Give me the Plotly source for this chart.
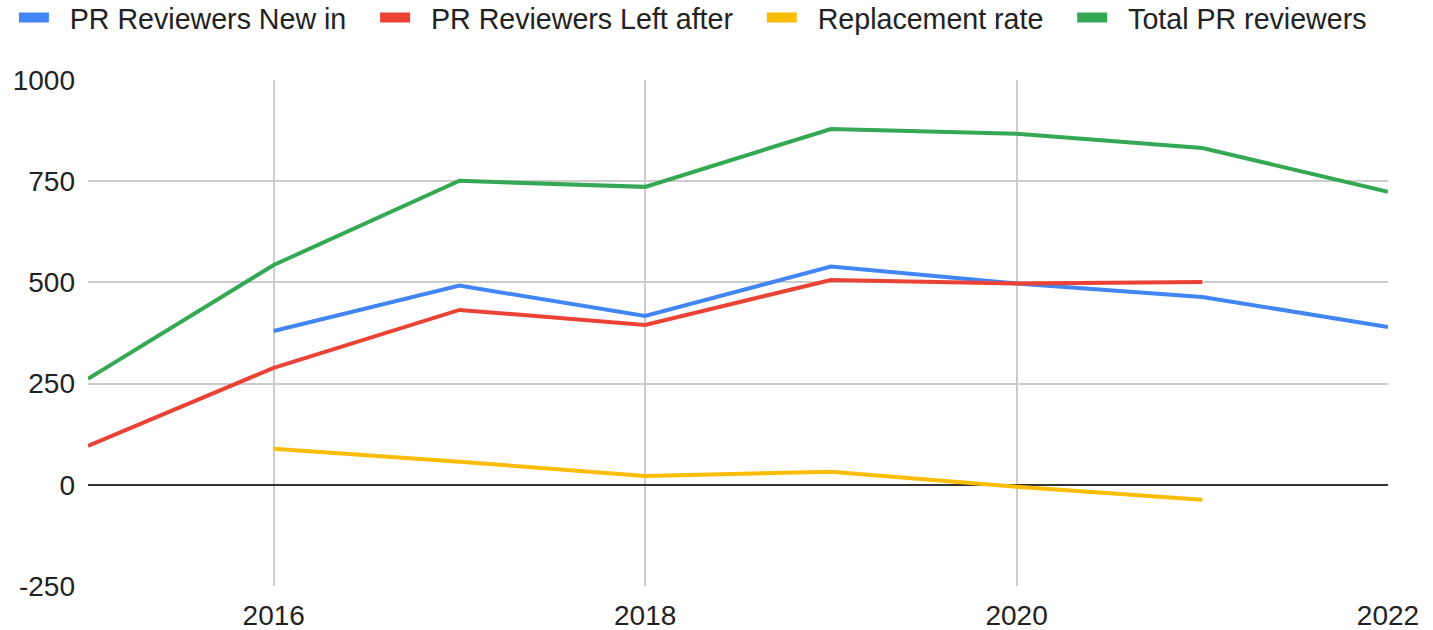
import plotly.graph_objects as go

years = [2015, 2016, 2017, 2018, 2019, 2020, 2021, 2022]
new_in = [None, 380, 492, 417, 539, 497, 464, 390]
left_after = [96, 289, 432, 395, 506, 497, 501, None]
replacement = [None, 89, 57, 22, 32, -5, -37, None]
total = [262, 543, 751, 736, 879, 867, 832, 724]

x_ticks = [2016, 2018, 2020, 2022]
y_ticks = [-250, 0, 250, 500, 750, 1000]
y_labels = ["-250", "0", "250", "500", "750", "1000"]

names = ["PR Reviewers New in", "PR Reviewers Left after", "Replacement rate", "Total PR reviewers"]
colors = ["#4285F4", "#EA4335", "#FBBC04", "#34A853"]

NB = "\u00a0"

fig = go.Figure()
for name, vals, col in zip(names, [new_in, left_after, replacement, total], colors):
    fig.add_trace(go.Scatter(x=years, y=vals, name=name, mode="lines", showlegend=False,
                             line=dict(color=col, width=4), connectgaps=False))
# legend-only entries so the swatches come out as short thick bars, padded like the original
for i, (name, col) in enumerate(zip(names, colors)):
    label = NB * 2 + name + (NB * 3 if i < len(names) - 1 else "")
    fig.add_trace(go.Scatter(x=[None], y=[None], name=label, mode="lines",
                             line=dict(color=col, width=10)))

fig.update_layout(
    width=1433, height=630,
    margin=dict(l=88, r=45, t=80, b=44, autoexpand=False),
    paper_bgcolor="white", plot_bgcolor="white",
    font=dict(family="Liberation Sans, Arial", size=28, color="#222222"),
    legend=dict(orientation="h", x=-0.057, y=1 + 62 / 506, xanchor="left", yanchor="middle",
                font=dict(size=28.6), itemwidth=30, tracegroupgap=0),
)
fig.update_xaxes(range=[2015, 2022], tickvals=x_ticks, automargin=False,
                 showgrid=True, gridcolor="#cccccc", gridwidth=2, zeroline=False,
                 ticks="", ticklabelstandoff=10)
fig.update_yaxes(range=[-250, 1000], tickvals=y_ticks, ticktext=y_labels, automargin=False,
                 showgrid=True, gridcolor="#cccccc", gridwidth=2,
                 zeroline=True, zerolinecolor="#333333", zerolinewidth=2,
                 ticks="", ticklabelstandoff=12)

fig.write_html("out.html", config={"displayModeBar": False},
               post_script="document.body.style.margin='0';")
